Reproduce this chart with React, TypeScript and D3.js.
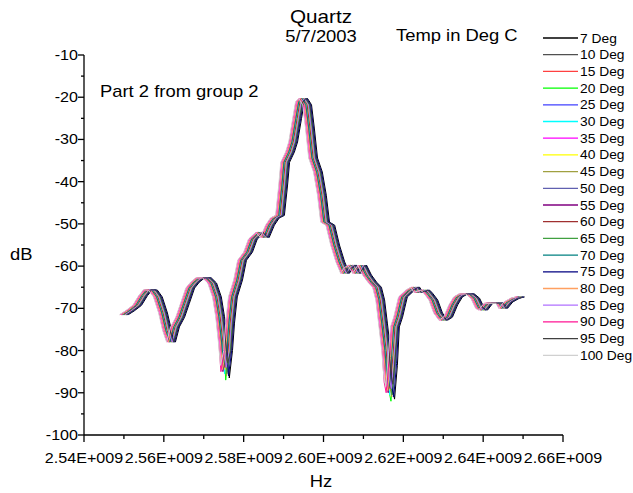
import React, { useEffect, useRef } from 'react';
import * as d3 from 'd3';

// frequency of the base trace, GHz
const freqGHz = [
  2.5500, 2.5515, 2.5533, 2.5548, 2.5560, 2.5573, 2.5585, 2.5598, 2.5608, 2.5618,
  2.5628, 2.5641, 2.5653, 2.5666, 2.5678, 2.5691, 2.5708, 2.5721, 2.5733, 2.5741,
  2.5748, 2.5753, 2.5761, 2.5766, 2.5773, 2.5786, 2.5796, 2.5811, 2.5823, 2.5841,
  2.5853, 2.5866, 2.5878, 2.5891, 2.5899, 2.5904, 2.5916, 2.5924, 2.5934, 2.5941,
  2.5949, 2.5959, 2.5966, 2.5974, 2.5986, 2.5996, 2.6004, 2.6017, 2.6029, 2.6042,
  2.6054, 2.6062, 2.6072, 2.6084, 2.6097, 2.6109, 2.6122, 2.6134, 2.6142, 2.6149,
  2.6157, 2.6162, 2.6167, 2.6174, 2.6179, 2.6187, 2.6199, 2.6217, 2.6230, 2.6237,
  2.6255, 2.6262, 2.6275, 2.6287, 2.6300, 2.6312, 2.6325, 2.6337, 2.6350, 2.6367,
  2.6380, 2.6392, 2.6400, 2.6413, 2.6425, 2.6443, 2.6450, 2.6463, 2.6480, 2.6493,
];

// response of the base trace, dB
const levelDb = [
  -71.5, -70.6, -69.3, -67.0, -65.6, -65.7, -67.3, -71.1, -75.2, -78.0,
  -74.4, -72.1, -68.8, -65.2, -63.8, -62.8, -62.8, -64.0, -67.3, -72.0,
  -78.2, -84.5, -80.0, -73.5, -67.3, -63.3, -58.6, -56.7, -53.6, -52.0,
  -53.2, -50.3, -48.6, -48.0, -40.8, -35.4, -33.0, -30.6, -25.0, -21.1,
  -20.3, -21.8, -27.3, -34.4, -37.7, -43.2, -49.6, -50.3, -55.0, -59.0,
  -61.7, -60.5, -59.8, -61.7, -59.8, -62.1, -63.8, -65.0, -68.0, -73.5,
  -80.0, -87.0, -89.5, -81.6, -74.4, -72.1, -67.3, -65.7, -65.0, -66.2,
  -65.7, -66.4, -68.0, -71.1, -72.8, -72.1, -69.2, -67.3, -66.6, -66.6,
  -67.6, -70.0, -70.4, -68.8, -68.8, -68.8, -70.0, -68.5, -67.6, -67.3,
];

const temps = [
  '7 Deg', '10 Deg', '15 Deg', '20 Deg', '25 Deg', '30 Deg', '35 Deg', '40 Deg', '45 Deg', '50 Deg',
  '55 Deg', '60 Deg', '65 Deg', '70 Deg', '75 Deg', '80 Deg', '85 Deg', '90 Deg', '95 Deg', '100 Deg',
];

const colors = [
  '#000000', '#505050', '#ff4040', '#00ff00', '#4040ff', '#00ffff', '#ff00ff', '#ffff00', '#a0a040', '#6060b0',
  '#800080', '#a03030', '#40a040', '#008080', '#000080', '#ffa060', '#b070ff', '#ff1493', '#404040', '#d0d0d0',
];

// frequency shift of each temperature trace, MHz
const shiftMHz = [1.1, 0.7, -0.4, 0.2, 0.6, -0.1, -0.7, 0.1, 0.4, 0.8, -0.5, 0.0, 0.5, -0.3, 0.9, -0.6, 0.3, -1.0, 0.7, -1.1];

// extra depth at the two notches for each trace, dB
const notchDb = [2.0, 0.5, -1.0, 2.5, 0.5, 1.0, -0.5, 0.0, 1.5, -1.5, 0.5, -0.5, 1.0, -1.0, 1.5, 0.0, -0.5, 0.5, -1.5, -1.0];

const xTicks = [2.54, 2.56, 2.58, 2.60, 2.62, 2.64, 2.66];
const xMinorTicks = [2.55, 2.57, 2.59, 2.61, 2.63, 2.65];
const yTicks = [-10, -20, -30, -40, -50, -60, -70, -80, -90, -100];
const yMinorTicks = [-15, -25, -35, -45, -55, -65, -75, -85, -95];

const FONT = '"Liberation Sans", Arial, sans-serif';
const SX = 1.15;

const App: React.FC = () => {
  const svgRef = useRef<SVGSVGElement>(null);

  useEffect(() => {
    if (!svgRef.current) return;
    const svg = d3.select(svgRef.current);
    svg.selectAll('*').remove();

    const width = 633;
    const height = 493;
    const left = 84;
    const right = 563;
    const top = 55;
    const bottom = 435;

    const x = d3.scaleLinear().domain([2.54, 2.66]).range([left, right]);
    const y = d3.scaleLinear().domain([-100, -10]).range([bottom, top]);

    svg.append('rect').attr('width', width).attr('height', height).attr('fill', '#fff');

    // stretched text, like the exported picture
    const label = (tx: number, ty: number, s: string, size: number, anchor = 'start') =>
      svg.append('text')
        .attr('transform', `translate(${tx},${ty}) scale(${SX},1)`)
        .attr('text-anchor', anchor)
        .style('font-family', FONT)
        .style('font-size', `${size}px`)
        .attr('fill', '#000')
        .text(s);

    // traces
    const line = d3.line<[number, number]>()
      .x(d => x(d[0]))
      .y(d => y(d[1]));

    temps.forEach((t, i) => {
      const pts: [number, number][] = freqGHz.map((f, j) => {
        const v = levelDb[j];
        const deep = v < -80 ? v - notchDb[i] : v;
        return [f + shiftMHz[i] / 1000, deep];
      });
      svg.append('path')
        .attr('d', line(pts))
        .attr('fill', 'none')
        .attr('stroke', colors[i])
        .attr('stroke-width', 1);
    });

    // axes
    const axis = svg.append('g').attr('stroke', '#000').attr('stroke-width', 1.3);
    axis.append('line').attr('x1', left).attr('x2', left).attr('y1', top).attr('y2', bottom);
    axis.append('line').attr('x1', left).attr('x2', right).attr('y1', bottom).attr('y2', bottom);

    yTicks.forEach(v => {
      axis.append('line').attr('x1', left - 6).attr('x2', left).attr('y1', y(v)).attr('y2', y(v));
      label(left - 6, y(v) + 5, String(v), 14, 'end');
    });
    yMinorTicks.forEach(v => {
      axis.append('line').attr('x1', left - 3).attr('x2', left).attr('y1', y(v)).attr('y2', y(v));
    });
    xTicks.forEach(v => {
      axis.append('line').attr('x1', x(v)).attr('x2', x(v)).attr('y1', bottom).attr('y2', bottom + 7);
      label(x(v), bottom + 28, `${v.toFixed(2)}E+009`, 14, 'middle');
    });
    xMinorTicks.forEach(v => {
      axis.append('line').attr('x1', x(v)).attr('x2', x(v)).attr('y1', bottom).attr('y2', bottom + 4);
    });

    // titles
    label(321, 23, 'Quartz', 18, 'middle');
    label(321, 42, '5/7/2003', 16, 'middle');
    label(396, 41, 'Temp in Deg C', 16);
    label(100, 97, 'Part 2 from group 2', 16);
    label(321, 487, 'Hz', 16, 'middle');
    label(10, 260, 'dB', 16);

    // legend
    temps.forEach((t, i) => {
      const ly = 38 + i * 16.7;
      svg.append('line')
        .attr('x1', 543).attr('x2', 578)
        .attr('y1', ly).attr('y2', ly)
        .attr('stroke', colors[i])
        .attr('stroke-width', 1.3);
      label(580, ly + 4.5, t, 12);
    });
  }, []);

  return (
    <svg
      ref={svgRef}
      width={633}
      height={493}
      style={{ position: 'absolute', left: 0, top: 0, display: 'block' }}
    />
  );
};

export default App;
